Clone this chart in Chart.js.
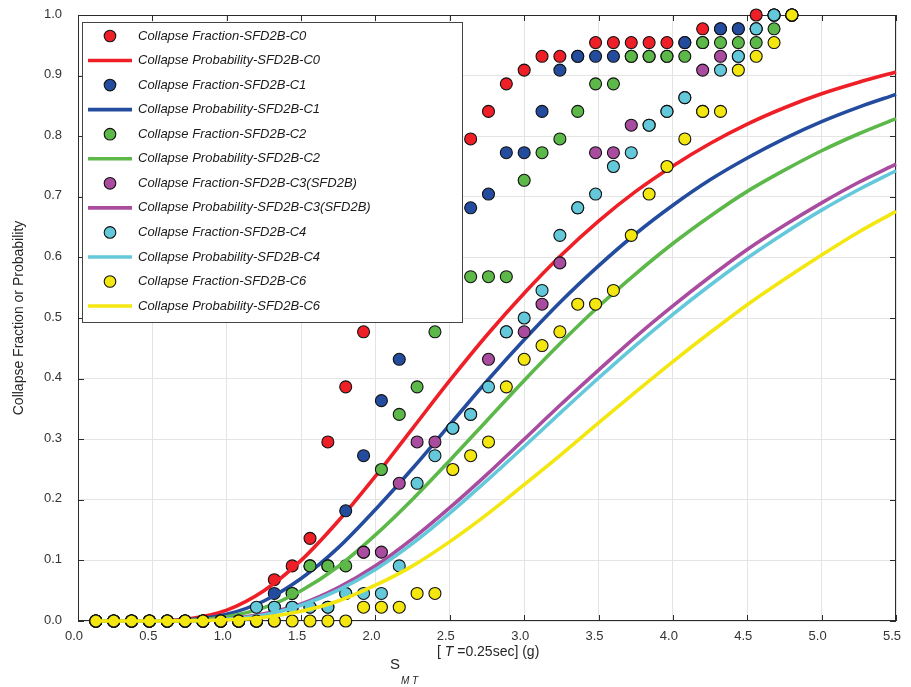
<!DOCTYPE html>
<html>
<head>
<meta charset="utf-8">
<script src="https://cdn.jsdelivr.net/npm/chart.js@4.4.0/dist/chart.umd.min.js"></script>
<style>
  html, body { margin: 0; padding: 0; background: #fff; }
  canvas { display: block; }
</style>
</head>
<body>
<canvas id="collapse-chart" width="911" height="687"></canvas>
<script>
// spectral intensity levels of the IDA (g)
const smtLevels = [0.12, 0.24, 0.36, 0.48, 0.60, 0.72, 0.84, 0.96, 1.08, 1.20,
                   1.32, 1.44, 1.56, 1.68, 1.80, 1.92, 2.04, 2.16, 2.28, 2.40,
                   2.52, 2.64, 2.76, 2.88, 3.00, 3.12, 3.24, 3.36, 3.48, 3.60,
                   3.72, 3.84, 3.96, 4.08, 4.20, 4.32, 4.44, 4.56, 4.68, 4.80];

// collapsed records (out of 44) at each level
const numRecords = 44;
const collapsedC0 = [0,0,0,0,0,0,0,0,0,0, 3,4,6,13,17,21,24,27,30,32, 33,35,37,39,40,41,41,41,42,42, 42,42,42,42,43,43,43,44,44,44];
const collapsedC1 = [0,0,0,0,0,0,0,0,0,0, 2,2,4,4,8,12,16,19,23,26, 28,30,31,34,34,37,40,41,41,41, 41,41,41,42,42,43,43,43,44,44];
const collapsedC2 = [0,0,0,0,0,0,0,0,0,0, 1,2,4,4,4,5,11,15,17,21, 23,25,25,25,32,34,35,37,39,39, 41,41,41,41,42,42,42,42,43,44];
const collapsedC3 = [0,0,0,0,0,0,0,0,0,0, 0,1,1,1,2,5,5,10,13,13, 14,15,19,21,21,23,26,30,34,34, 36,36,37,38,40,41,41,43,44,44];
const collapsedC4 = [0,0,0,0,0,0,0,0,0,1, 1,1,1,1,2,2,2,4,10,12, 14,15,17,21,22,24,28,30,31,33, 34,36,37,38,37,40,41,43,44,44];
const collapsedC6 = [0,0,0,0,0,0,0,0,0,0, 0,0,0,0,0,1,1,1,2,2, 11,12,13,17,19,20,21,23,23,24, 28,31,33,35,37,37,40,41,42,44];

// fitted fragility curves, read at these x positions
const curveX = [0.12, 0.25, 0.5, 0.75, 1.0, 1.25, 1.5, 1.75, 2.0, 2.25, 2.5, 2.75,
                3.0, 3.25, 3.5, 3.75, 4.0, 4.25, 4.5, 4.75, 5.0, 5.25, 5.5];
const probC0 = [0, 0, 0.0002, 0.0038, 0.018, 0.050, 0.100, 0.165, 0.239, 0.318, 0.397, 0.472,
                0.541, 0.604, 0.660, 0.709, 0.751, 0.788, 0.820, 0.847, 0.870, 0.889, 0.906];
const probC1 = [0, 0, 0.0001, 0.0021, 0.011, 0.033, 0.070, 0.121, 0.184, 0.252, 0.324, 0.396,
                0.464, 0.528, 0.586, 0.639, 0.686, 0.728, 0.764, 0.796, 0.824, 0.848, 0.869];
const probC2 = [0, 0, 0.0001, 0.0012, 0.007, 0.022, 0.050, 0.090, 0.142, 0.201, 0.265, 0.331,
                0.397, 0.460, 0.519, 0.573, 0.623, 0.668, 0.709, 0.744, 0.776, 0.804, 0.829];
const probC3 = [0, 0, 0, 0.0005, 0.003, 0.012, 0.028, 0.055, 0.091, 0.136, 0.187, 0.242,
                0.300, 0.358, 0.414, 0.469, 0.520, 0.568, 0.613, 0.653, 0.690, 0.724, 0.754];
const probC4 = [0, 0, 0, 0.0004, 0.003, 0.010, 0.026, 0.051, 0.085, 0.128, 0.178, 0.232,
                0.288, 0.345, 0.401, 0.455, 0.506, 0.554, 0.599, 0.640, 0.678, 0.712, 0.743];
const probC6 = [0, 0, 0, 0.0002, 0.002, 0.006, 0.016, 0.033, 0.059, 0.091, 0.131, 0.176,
                0.225, 0.275, 0.327, 0.378, 0.428, 0.476, 0.522, 0.564, 0.604, 0.642, 0.676];

const seriesNames = ['SFD2B-C0', 'SFD2B-C1', 'SFD2B-C2', 'SFD2B-C3(SFD2B)', 'SFD2B-C4', 'SFD2B-C6'];
const seriesColors = ['#ee1f26', '#244c9e', '#5cb848', '#a94c9f', '#64c8db', '#f3e70f'];
const collapsedAll = [collapsedC0, collapsedC1, collapsedC2, collapsedC3, collapsedC4, collapsedC6];
const probAll = [probC0, probC1, probC2, probC3, probC4, probC6];

const xTicks = [0, 0.5, 1, 1.5, 2, 2.5, 3, 3.5, 4, 4.5, 5, 5.5];
const yTicks = [0, 0.1, 0.2, 0.3, 0.4, 0.5, 0.6, 0.7, 0.8, 0.9, 1.0];

const FONT = '"Liberation Sans", Arial, Helvetica, sans-serif';
const AXIS_COLOR = '#2b2b2b';

const datasets = [];
let drawOrder = seriesNames.length * 2;
seriesNames.forEach((name, i) => {
  datasets.push({
    label: 'Collapse Fraction-' + name,
    data: smtLevels.map((x, k) => ({ x: x, y: collapsedAll[i][k] / numRecords })),
    backgroundColor: seriesColors[i],
    borderColor: '#111',
    borderWidth: 1.1,
    pointRadius: 6,
    showLine: false,
    clip: false,
    order: drawOrder--
  });
  datasets.push({
    label: 'Collapse Probability-' + name,
    data: curveX.map((x, k) => ({ x: x, y: probAll[i][k] })),
    borderColor: seriesColors[i],
    backgroundColor: seriesColors[i],
    borderWidth: 3.6,
    pointRadius: 0,
    showLine: true,
    cubicInterpolationMode: 'monotone',
    clip: false,
    order: drawOrder--
  });
});

// axes box with inward tick marks, drawn under the markers
const frameBox = {
  id: 'frameBox',
  beforeDatasetsDraw(chart) {
    const { ctx, chartArea: a, scales } = chart;
    ctx.save();
    ctx.strokeStyle = AXIS_COLOR;
    ctx.lineWidth = 1;
    ctx.strokeRect(a.left + 0.5, a.top + 0.5, a.right - a.left - 1, a.bottom - a.top - 1);
    ctx.beginPath();
    xTicks.forEach(v => {
      const px = Math.round(scales.x.getPixelForValue(v)) + 0.5;
      ctx.moveTo(px, a.bottom); ctx.lineTo(px, a.bottom - 6);
      ctx.moveTo(px, a.top); ctx.lineTo(px, a.top + 6);
    });
    yTicks.forEach(v => {
      const py = Math.round(scales.y.getPixelForValue(v)) + 0.5;
      ctx.moveTo(a.left, py); ctx.lineTo(a.left + 6, py);
      ctx.moveTo(a.right, py); ctx.lineTo(a.right - 6, py);
    });
    ctx.stroke();
    ctx.restore();
  }
};

// opaque legend box in the upper left of the axes
const boxLegend = {
  id: 'boxLegend',
  afterDatasetsDraw(chart) {
    const { ctx, chartArea: a } = chart;
    const left = a.left + 4, top = a.top + 7, w = 380, h = 300;
    ctx.save();
    ctx.fillStyle = '#fff';
    ctx.fillRect(left, top, w, h);
    ctx.strokeStyle = '#444';
    ctx.lineWidth = 1;
    ctx.strokeRect(left + 0.5, top + 0.5, w, h);
    ctx.font = 'italic 13px ' + FONT;
    ctx.textBaseline = 'middle';
    ctx.fillStyle = '#1a1a1a';
    chart.data.datasets.forEach((ds, i) => {
      const y = top + 14 + i * 24.55;
      if (ds.showLine) {
        ctx.strokeStyle = ds.borderColor;
        ctx.lineWidth = 3.6;
        ctx.beginPath();
        ctx.moveTo(left + 6, y); ctx.lineTo(left + 50, y);
        ctx.stroke();
      } else {
        ctx.beginPath();
        ctx.arc(left + 28, y, 5.8, 0, Math.PI * 2);
        ctx.fillStyle = ds.backgroundColor;
        ctx.fill();
        ctx.strokeStyle = '#111';
        ctx.lineWidth = 1.1;
        ctx.stroke();
      }
      ctx.fillStyle = '#1a1a1a';
      ctx.fillText(ds.label, left + 56, y);
    });
    ctx.restore();
  }
};

// axis titles
const axisTitles = {
  id: 'axisTitles',
  afterDraw(chart) {
    const { ctx, chartArea: a } = chart;
    ctx.save();
    ctx.fillStyle = '#262626';
    ctx.textBaseline = 'middle';
    ctx.font = '14px ' + FONT;
    ctx.translate(19, (a.top + a.bottom) / 2);
    ctx.rotate(-Math.PI / 2);
    ctx.textAlign = 'center';
    ctx.fillText('Collapse Fraction or Probability', 0, 0);
    ctx.restore();

    ctx.save();
    ctx.fillStyle = '#262626';
    ctx.textBaseline = 'middle';
    ctx.textAlign = 'left';
    let x = 437;
    const y = 652;
    ctx.font = '14px ' + FONT;
    ctx.fillText('[ ', x, y); x += ctx.measureText('[ ').width;
    ctx.font = 'italic 14px ' + FONT;
    ctx.fillText('T', x, y); x += ctx.measureText('T').width;
    ctx.font = '14px ' + FONT;
    ctx.fillText(' =0.25sec] (g)', x, y);
    ctx.font = '15px ' + FONT;
    ctx.fillText('S', 390, 665);
    ctx.font = 'italic 10px ' + FONT;
    ctx.fillText('M T', 401, 681);
    ctx.restore();
  }
};

new Chart(document.getElementById('collapse-chart'), {
  type: 'scatter',
  data: { datasets: datasets },
  options: {
    responsive: false,
    animation: false,
    layout: { autoPadding: false, padding: { left: 0, right: 15, top: 15, bottom: 0 } },
    plugins: {
      legend: { display: false },
      tooltip: { enabled: false }
    },
    scales: {
      x: {
        type: 'linear',
        min: 0,
        max: 5.5,
        afterFit: s => { s.height = 66; s.paddingLeft = 0; s.paddingRight = 0; },
        afterBuildTicks: s => { s.ticks = xTicks.map(v => ({ value: v })); },
        ticks: {
          callback: v => v.toFixed(1),
          font: { family: FONT, size: 13 },
          color: '#333',
          padding: 8,
          labelOffset: -4,
          maxRotation: 0
        },
        grid: { color: '#e4e4e4', drawTicks: false },
        border: { display: false }
      },
      y: {
        type: 'linear',
        min: 0,
        max: 1,
        afterFit: s => { s.width = 78; s.paddingTop = 0; s.paddingBottom = 0; },
        afterBuildTicks: s => { s.ticks = yTicks.map(v => ({ value: v })); },
        ticks: {
          callback: v => v.toFixed(1),
          font: { family: FONT, size: 13 },
          color: '#333',
          padding: 16,
          labelOffset: -1
        },
        grid: { color: '#e4e4e4', drawTicks: false },
        border: { display: false }
      }
    }
  },
  plugins: [frameBox, boxLegend, axisTitles]
});
</script>
</body>
</html>
